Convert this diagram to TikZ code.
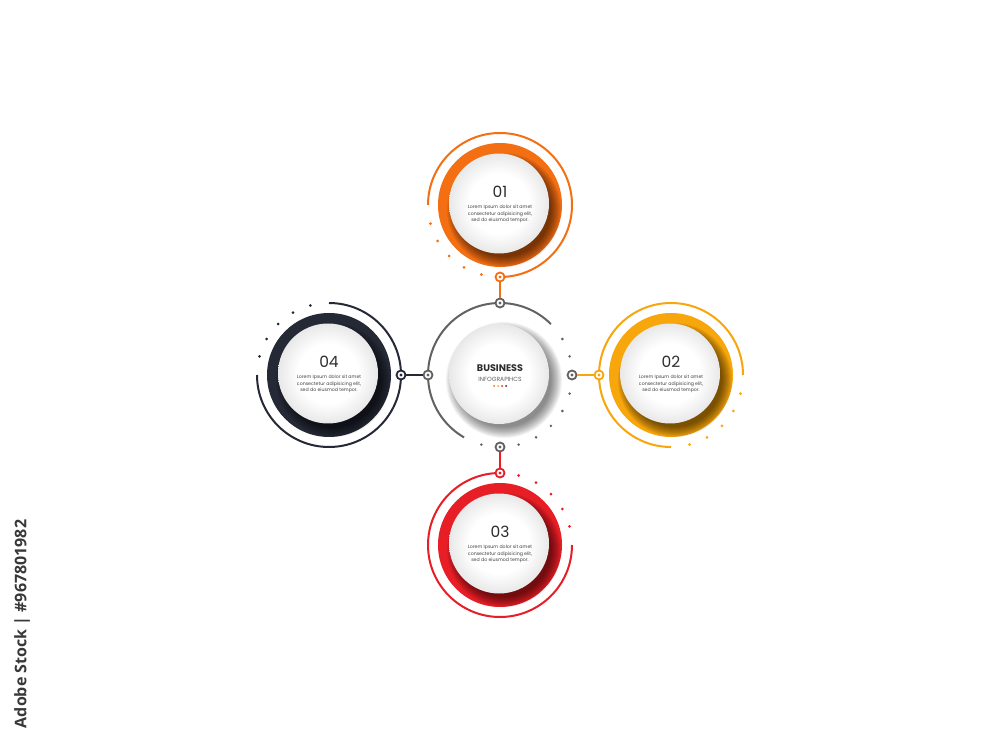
\documentclass[tikz,border=0pt]{standalone}
\usepackage{fontspec}
\setmainfont{Poppins}
\newfontfamily\osans{Open Sans}
\usetikzlibrary{calc}
\definecolor{cOr}{RGB}{244,110,18}
\definecolor{cYe}{RGB}{247,166,12}
\definecolor{cRd}{RGB}{232,30,38}
\definecolor{cNv}{RGB}{36,41,53}
\definecolor{cGy}{RGB}{98,98,98}
\definecolor{cTx}{RGB}{45,45,45}
\pgfdeclareradialshading{wball}{\pgfpointorigin}{color(0bp)=(white); color(15bp)=(white); color(25bp)=(black!9); color(50bp)=(black!9)}
\newcommand\infocircle[8]{%
  \coordinate (#1) at (#2,#3);
  \fill[#4] (#1) circle (62);
  \foreach \k in {0,...,10}{\fill[black, opacity=0.06] ($(#1)+(4,-5)$) circle (47+\k*1.0);}
  \shade[shading=wball] ($(#1)+(-1,1.5)$) circle (50);
  \draw[thinarc, #4] ($(#1)+(#5:72)$) arc[start angle=#5, end angle=#6, radius=72];
  \foreach \a in {0,15,...,60}{\fill[#4] ($(#1)+(#7+\a:72)$) circle (1.5);}
  \node[num] (#1num) at ($(#1)+(0,13)$) {#8};
  \node[body] (#1txt) at ($(#1)+(0,-9)$) {Lorem Ipsum dolor sit amet\\consectetur adipisicing elit,\\sed do eiusmod tempor.};
}
\begin{document}
\begin{tikzpicture}[x=1pt,y=1pt,
  thinarc/.style={line width=2pt},
  conn/.style={line width=2.4pt},
  jnode/.style={circle, draw=#1, fill=white, line width=1.8pt, minimum size=9pt, inner sep=0pt,
    path picture={\fill[#1] (path picture bounding box.center) circle (1.6pt);}},
  num/.style={font=\fontsize{15.5}{15.5}\selectfont, text=cTx},
  body/.style={font=\fontsize{4.7}{6.4}\selectfont, text=cTx!90, align=center, inner sep=0pt},
]
\useasboundingbox (0,0) rectangle (1000,750);
\fill[white] (0,0) rectangle (1000,750);

% side caption
\node[rotate=90, font=\osans\bfseries\fontsize{16}{16}\selectfont, text=black!78] (cap) at (22,126) {Adobe Stock | \#967801982};

% four step circles
\infocircle{T}{500}{545}{cOr}{270}{540}{195}{01}
\infocircle{R}{671}{375}{cYe}{0}{270}{285}{02}
\infocircle{B}{500}{205}{cRd}{90}{360}{15}{03}
\infocircle{L}{329}{375}{cNv}{180}{450}{105}{04}

% centre
\coordinate (C) at (500,375);
\foreach \k in {0,...,10}{\fill[black, opacity=0.05] ($(C)+(4,-5)$) circle (47+\k*1.1);}
\shade[shading=wball] ($(C)+(-1,1)$) circle (50);
\draw[thinarc, cGy] ($(C)+(45:72)$) arc[start angle=45, end angle=240, radius=72];
\foreach \a in {255,285,300,315,330,345,15,30}{\fill[cGy] ($(C)+(\a:72)$) circle (1.4);}
\node[font=\fontsize{9.6}{10}\selectfont\bfseries, text=cTx] (bus) at (500,382) {BUSINESS};
\node[font=\fontsize{6}{6}\selectfont, text=cGy] (inf) at (500,371) {INFOGRAPIHCS};
\fill[cOr] (494,364) circle (1);
\fill[cYe] (498,364) circle (1);
\fill[cRd] (502,364) circle (1);
\fill[cNv] (506,364) circle (1);

% junctions
\node[jnode=cGy] (gT) at ($(C)+(90:72)$) {};
\node[jnode=cGy] (gR) at ($(C)+(0:72)$) {};
\node[jnode=cGy] (gB) at ($(C)+(270:72)$) {};
\node[jnode=cGy] (gL) at ($(C)+(180:72)$) {};
\node[jnode=cOr] (jT) at ($(T)+(270:72)$) {};
\node[jnode=cYe] (jR) at ($(R)+(180:72)$) {};
\node[jnode=cRd] (jB) at ($(B)+(90:72)$) {};
\node[jnode=cNv] (jL) at ($(L)+(0:72)$) {};

% connectors
\draw[conn, cOr] (jT) -- (gT);
\draw[conn, cYe] (jR) -- (gR);
\draw[conn, cRd] (jB) -- (gB);
\draw[conn, cNv] (jL) -- (gL);
\end{tikzpicture}
\end{document}
